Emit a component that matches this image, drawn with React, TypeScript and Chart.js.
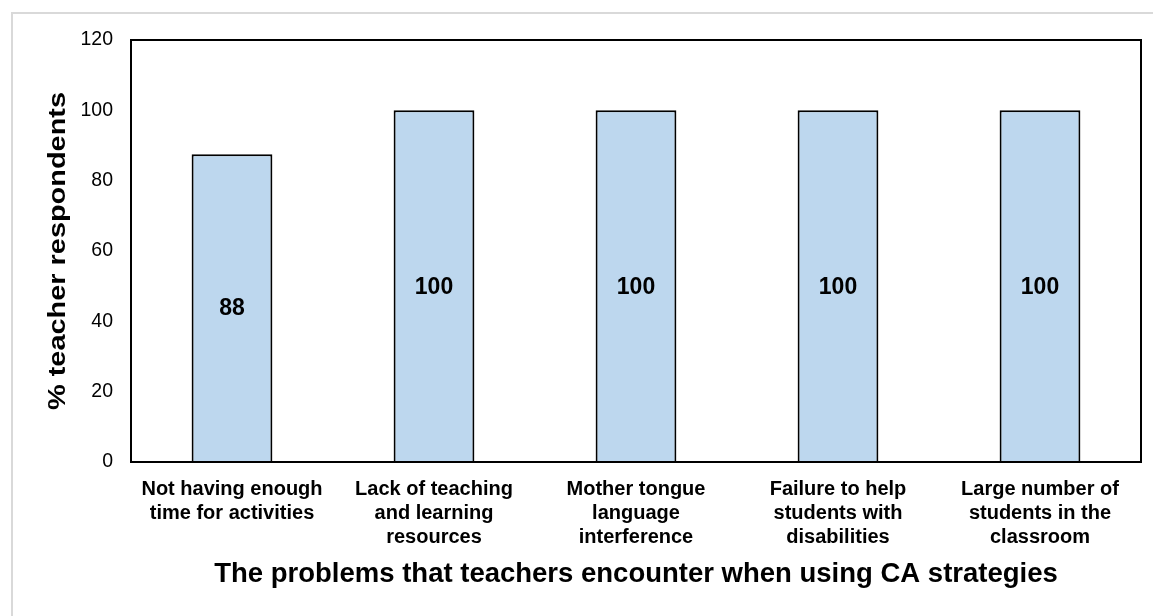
import React, { useEffect, useRef } from "react";
import { Chart, registerables } from "chart.js";

Chart.register(...registerables);

const categories: string[][] = [
  ["Not having enough", "time for activities"],
  ["Lack of teaching", "and learning", "resources"],
  ["Mother tongue", "language", "interference"],
  ["Failure to help", "students with", "disabilities"],
  ["Large number of", "students in the", "classroom"],
];
const values: number[] = [87.5, 100, 100, 100, 100];
const valueLabels: string[] = ["88", "100", "100", "100", "100"];
const yMin = 0;
const yMax = 120;
const yStep = 20;
const yTitle = "% teacher respondents";
const xTitle = "The problems that teachers encounter when using CA strategies";

const FONT = "Arial, 'Liberation Sans', sans-serif";

const framePlugin = {
  id: "framePlugin",
  beforeDraw(chart: any) {
    const ctx = chart.ctx;
    ctx.save();
    ctx.fillStyle = "#ffffff";
    ctx.fillRect(0, 0, chart.width, chart.height);
    ctx.fillStyle = "#d9d9d9";
    ctx.fillRect(11, 12, chart.width - 11, 2);
    ctx.fillRect(11, 12, 2, chart.height - 12);
    ctx.restore();
  },
  afterDatasetsDraw(chart: any) {
    const ctx = chart.ctx;
    const a = chart.chartArea;
    ctx.save();
    ctx.strokeStyle = "#000000";
    ctx.lineWidth = 2;
    ctx.strokeRect(a.left, a.top, a.right - a.left, a.bottom - a.top);
    // value labels
    const meta = chart.getDatasetMeta(0);
    ctx.fillStyle = "#000000";
    ctx.font = `bold 23px ${FONT}`;
    ctx.textAlign = "center";
    ctx.textBaseline = "middle";
    meta.data.forEach((el: any, i: number) => {
      const { x, y, base } = el.getProps(["x", "y", "base"], true);
      ctx.fillText(valueLabels[i], x, (y + base) / 2 + 1);
    });
    // y axis title (stretched along its length as in the reference)
    ctx.font = `bold 24px ${FONT}`;
    const w = ctx.measureText(yTitle).width;
    const target = 318;
    ctx.translate(65, (a.top + a.bottom) / 2);
    ctx.rotate(-Math.PI / 2);
    ctx.scale(target / w, 1);
    ctx.textAlign = "center";
    ctx.textBaseline = "alphabetic";
    ctx.fillText(yTitle, 0, 0);
    ctx.restore();
  },
};

export default function App() {
  const canvasRef = useRef<HTMLCanvasElement | null>(null);

  useEffect(() => {
    if (!canvasRef.current) return;
    const chart = new Chart(canvasRef.current, {
      type: "bar",
      data: {
        labels: categories,
        datasets: [
          {
            data: values,
            backgroundColor: "#BDD7EE",
            borderColor: "#000000",
            borderWidth: 2,
            barPercentage: 0.4,
            categoryPercentage: 1.0,
          },
        ],
      },
      options: {
        animation: false,
        responsive: true,
        maintainAspectRatio: false,
        devicePixelRatio: 1,
        layout: { padding: { left: 0, right: 12, top: 40, bottom: 0 } },
        plugins: {
          legend: { display: false },
          tooltip: { enabled: false },
          title: { display: false },
        },
        scales: {
          x: {
            grid: { display: false, drawTicks: false },
            border: { display: false },
            ticks: {
              autoSkip: false,
              maxRotation: 0,
              minRotation: 0,
              padding: 15,
              color: "#000000",
              font: { family: FONT, size: 20, weight: "bold", lineHeight: 1.2 },
            },
            title: {
              display: true,
              text: xTitle,
              color: "#000000",
              font: { family: FONT, size: 27.5, weight: "bold", lineHeight: 1.2 },
              padding: { top: 0, bottom: 25 },
            },
            afterFit(scale: any) {
              scale.height = 154;
            },
          },
          y: {
            min: yMin,
            max: yMax,
            grid: { display: false, drawTicks: false },
            border: { display: false },
            ticks: {
              stepSize: yStep,
              padding: 18,
              color: "#000000",
              font: { family: FONT, size: 19.5 },
            },
            afterFit(scale: any) {
              scale.width = 131;
            },
          },
        },
      },
      plugins: [framePlugin],
    });
    return () => chart.destroy();
  }, []);

  return (
    <div style={{ position: "fixed", left: 0, top: 0, width: 1153, height: 616, background: "#fff" }}>
      <canvas ref={canvasRef} />
    </div>
  );
}
